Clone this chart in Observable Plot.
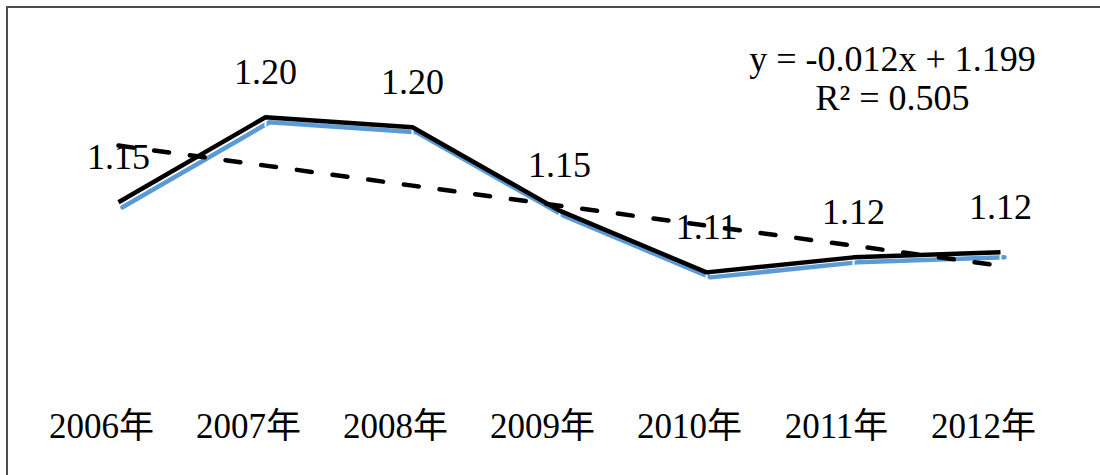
<!DOCTYPE html>
<html><head><meta charset="utf-8">
<script src="https://cdn.jsdelivr.net/npm/d3@7"></script>
<script src="https://cdn.jsdelivr.net/npm/@observablehq/plot@0.6"></script>
<style>
html,body{margin:0;padding:0;background:#fff;overflow:hidden;}
#chart{position:absolute;left:0;top:0;}
#box{position:absolute;left:6px;top:6px;width:2000px;height:2000px;border:2px solid #4d4d4d;pointer-events:none;}
</style></head><body>
<div id="chart"></div><div id="box"></div>
<script>
const years = ["2006年", "2007年", "2008年", "2009年", "2010年", "2011年", "2012年"];
const values = [1.153, 1.204, 1.198, 1.148, 1.111, 1.120, 1.123];
const trendSlope = -0.012;
const trendIntercept = 1.199;
const rSquared = 0.505;

const data = years.map((year, i) => ({year, value: values[i], idx: i + 1}));
const trend = data.map(d => ({year: d.year, value: trendSlope * d.idx + trendIntercept}));
const fmt = d3.format(".2f");
const font = "'Liberation Serif', 'Times New Roman', 'Noto Sans CJK SC', serif";
const eq = `y = ${trendSlope.toFixed(3)}x + ${trendIntercept.toFixed(3)}\nR² = ${rSquared.toFixed(3)}`;

const chart = Plot.plot({
  width: 1100,
  height: 475,
  marginLeft: 115,
  marginRight: 98,
  marginTop: 40,
  marginBottom: 68,
  style: {fontFamily: font, fontSize: "35px", background: "white", color: "#000"},
  x: {type: "point", domain: years, padding: 0, axis: null},
  y: {domain: [1.03, 1.25], axis: null},
  marks: [
    Plot.axisX({tickSize: 0, tickPadding: 6, fontSize: 35, fontFamily: font, dx: -17, fill: "#000", label: null}),
    Plot.text(data, {x: "year", y: "value", text: d => fmt(d.value), dy: -45, fontSize: 36, fontFamily: font, fill: "#000"}),
    Plot.line(data, {x: "year", y: "value", stroke: "#5b9bd5", strokeWidth: 4.5, dx: 4, dy: 5, strokeLinecap: "round", strokeLinejoin: "miter"}),
    Plot.ruleX(data.filter(d => d.idx > 1), {x: "year", y1: "value", y2: "value", insetBottom: -10, stroke: "white", strokeWidth: 2}),
    Plot.line(data, {x: "year", y: "value", stroke: "#000", strokeWidth: 4.5, strokeLinecap: "butt", strokeLinejoin: "miter"}),
    Plot.line(trend, {x: "year", y: "value", stroke: "#000", strokeWidth: 4.5, strokeDasharray: "15,21", strokeLinecap: "round"}),
    Plot.text([eq], {frameAnchor: "top-right", textAnchor: "middle", lineAnchor: "top", dx: -110, dy: 3, fontSize: 36, lineHeight: 1.08, fontFamily: font, fill: "#000"})
  ]
});
document.getElementById("chart").append(chart);
</script>
</body></html>
